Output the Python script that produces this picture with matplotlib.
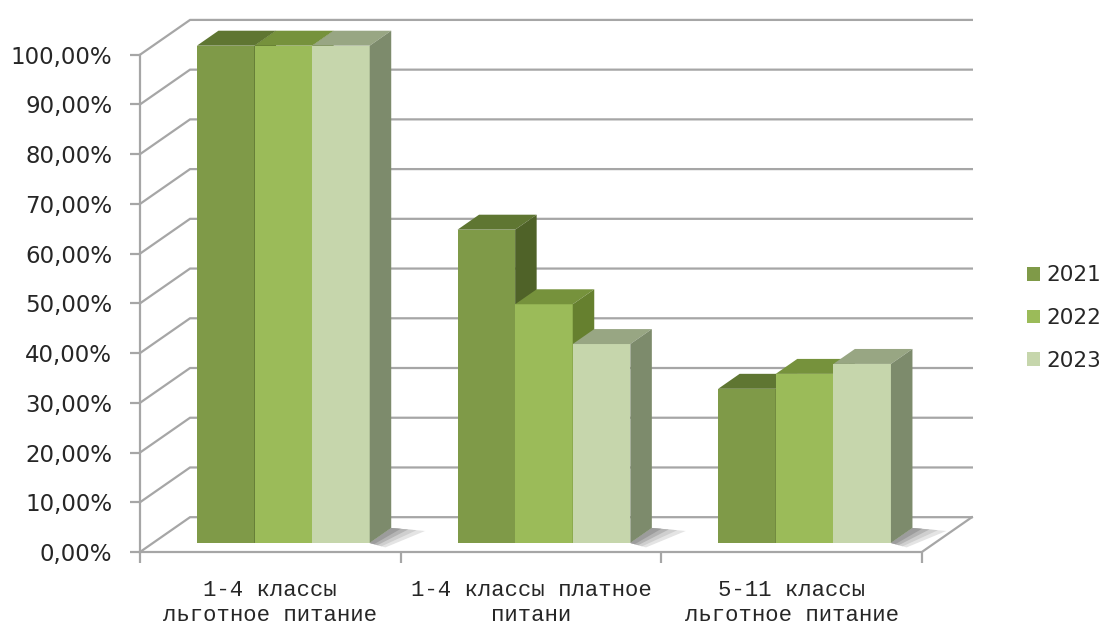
import matplotlib.pyplot as plt
from matplotlib.patches import Polygon, Patch
from matplotlib.ticker import FuncFormatter

categories = ['1-4 классы\nльготное питание', '1-4 классы платное\nпитани', '5-11 классы\nльготное питание']
years = ['2021', '2022', '2023']
v2021 = [100, 63, 31]
v2022 = [100, 48, 34]
v2023 = [100, 40, 36]
series = [v2021, v2022, v2023]

front_cols = ['#7F9A48', '#9BBB59', '#C6D6AC']
top_cols = ['#5F7632', '#76923C', '#98A683']
side_cols = ['#4F6228', '#66802F', '#7D8B6C']

# oblique depth offset (in data units) of the back wall
DX, DY = 0.192, 7.0
f0, f1 = 0.26, 0.69   # bar front / back depth fraction
bw = 0.221            # bar width
grid_col = '#A6A6A6'

fig = plt.figure(figsize=(11.08, 6.28), dpi=100)
ax = fig.add_axes([140 / 1108, 76 / 628, 847 / 1108, 547 / 628])
ax.set_xlim(0, 3.25)
ax.set_ylim(0, 110)

# walls: side wall diagonals + back wall lines
for v in range(0, 101, 10):
    ax.plot([0, DX, 3 + DX], [v, v + DY, v + DY], color=grid_col, lw=1.6,
            solid_joinstyle='miter', clip_on=False)
# floor
ax.plot([0, 3, 3 + DX], [0, 0, DY], color=grid_col, lw=1.6, clip_on=False)

ox, oy = f0 * DX, f0 * DY
bx, by = f1 * DX, f1 * DY

# bars, drawn left to right so later bars cover earlier side faces
for c in range(len(categories)):
    start = c + 0.5 - 1.5 * bw
    # soft floor shadow right of the cluster
    xr = start + 3 * bw
    for g, col in [(1.0, '#E4E4E4'), (0.75, '#CFCFCF'), (0.5, '#B4B4B4'), (0.28, '#9C9C9C')]:
        ax.add_patch(Polygon([(xr + ox, oy), (xr + bx, by),
                              (xr + bx + 0.13 * g, by - 0.6 * g),
                              (xr + ox + 0.06 * g, oy - 0.9 * g)],
                             closed=True, facecolor=col, lw=0, zorder=2.5, clip_on=False))
    for s, vals in enumerate(series):
        v = vals[c]
        x0 = start + s * bw
        x1 = x0 + bw
        ax.add_patch(Polygon([(x0 + ox, oy), (x1 + ox, oy), (x1 + ox, v + oy), (x0 + ox, v + oy)],
                             closed=True, facecolor=front_cols[s], edgecolor='none', zorder=3, clip_on=False))
        ax.add_patch(Polygon([(x0 + ox, v + oy), (x1 + ox, v + oy), (x1 + bx, v + by), (x0 + bx, v + by)],
                             closed=True, facecolor=top_cols[s], edgecolor='none', zorder=3, clip_on=False))
        ax.add_patch(Polygon([(x1 + ox, oy), (x1 + bx, by), (x1 + bx, v + by), (x1 + ox, v + oy)],
                             closed=True, facecolor=side_cols[s], edgecolor='none', zorder=3, clip_on=False))

for sp in ['top', 'right', 'bottom']:
    ax.spines[sp].set_visible(False)
ax.spines['left'].set_color(grid_col)
ax.spines['left'].set_linewidth(1.6)
ax.spines['left'].set_bounds(0, 100)

ax.set_yticks(range(0, 101, 10))
ax.yaxis.set_major_formatter(FuncFormatter(lambda v, p: f'{v:.2f}'.replace('.', ',') + '%'))
ax.tick_params(axis='y', length=7, width=1.6, color=grid_col, labelsize=16.5,
               labelcolor='#262626', pad=13)

ax.set_xticks([0, 1, 2, 3])
ax.set_xticklabels([])
ax.set_xticks([0.5, 1.5, 2.5], minor=True)
ax.set_xticklabels(categories, minor=True, family='Liberation Mono', fontsize=16,
                   color='#262626', linespacing=1.28)
ax.tick_params(axis='x', which='major', length=8, width=1.6, color=grid_col)
ax.tick_params(axis='x', which='minor', length=0, pad=20)

handles = [Patch(facecolor=front_cols[i], edgecolor='none') for i in range(3)]
fig.legend(handles, years, loc='center left', bbox_to_anchor=(1027 / 1108, 1 - 318 / 628),
           frameon=False, fontsize=15.5, handlelength=0.6, handleheight=0.6,
           handletextpad=0.3, labelspacing=1.05, borderpad=0, borderaxespad=0,
           labelcolor='#262626')

fig.savefig('out.png', dpi=100, facecolor='white')
